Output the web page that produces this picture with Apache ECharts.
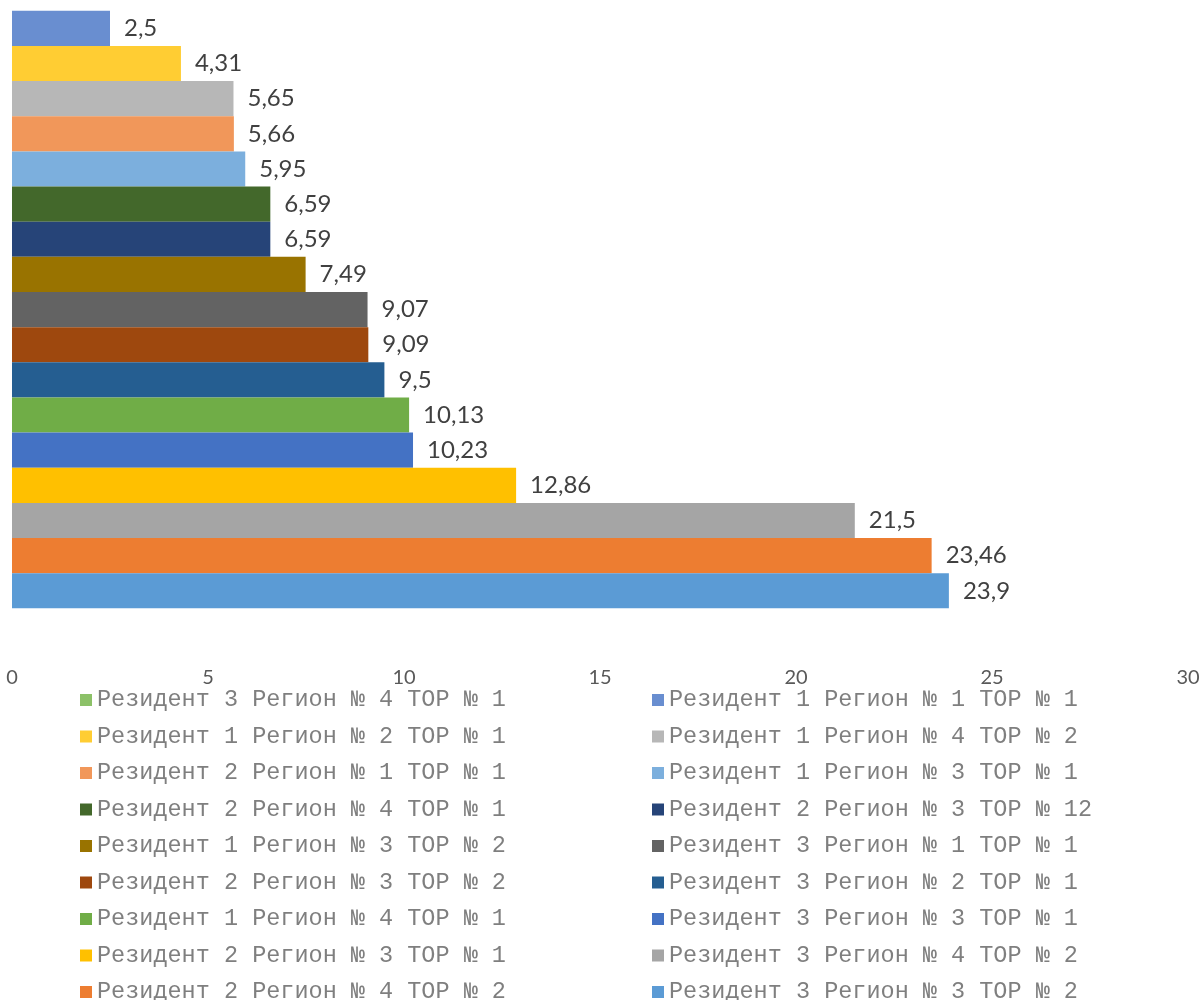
<!DOCTYPE html>
<html>
<head>
<meta charset="utf-8">
<script src="https://cdn.jsdelivr.net/npm/echarts@6/dist/echarts.min.js"></script>
<style>
html,body{margin:0;padding:0;background:#fff;}
#chart{width:1204px;height:1000px;}
</style>
</head>
<body>
<div id="chart"></div>
<script>
// Series names (top to bottom as drawn), values, and axis ticks
const seriesNames = [
  'Резидент 3 Регион № 4 ТОР № 1',
  'Резидент 1 Регион № 1 ТОР № 1',
  'Резидент 1 Регион № 2 ТОР № 1',
  'Резидент 1 Регион № 4 ТОР № 2',
  'Резидент 2 Регион № 1 ТОР № 1',
  'Резидент 1 Регион № 3 ТОР № 1',
  'Резидент 2 Регион № 4 ТОР № 1',
  'Резидент 2 Регион № 3 ТОР № 12',
  'Резидент 1 Регион № 3 ТОР № 2',
  'Резидент 3 Регион № 1 ТОР № 1',
  'Резидент 2 Регион № 3 ТОР № 2',
  'Резидент 3 Регион № 2 ТОР № 1',
  'Резидент 1 Регион № 4 ТОР № 1',
  'Резидент 3 Регион № 3 ТОР № 1',
  'Резидент 2 Регион № 3 ТОР № 1',
  'Резидент 3 Регион № 4 ТОР № 2',
  'Резидент 2 Регион № 4 ТОР № 2',
  'Резидент 3 Регион № 3 ТОР № 2'
];
// first series has no visible bar in the picture
const seriesValues = [null, 2.5, 4.31, 5.65, 5.66, 5.95, 6.59, 6.59, 7.49, 9.07, 9.09, 9.5, 10.13, 10.23, 12.86, 21.5, 23.46, 23.9];
const categories = [''];
const xTicks = { min: 0, max: 30, interval: 5 };

const palette = ['#8cc168','#698ed0','#ffcd33','#b7b7b7','#f1975a','#7cafdd','#43682b','#264478','#997300','#636363','#9e480e','#255e91','#70ad47','#4472c4','#ffc000','#a5a5a5','#ed7d31','#5b9bd5'];

const chart = echarts.init(document.getElementById('chart'));

const series = seriesNames.map((name, i) => ({
  name: name,
  type: 'bar',
  data: [seriesValues[i]],
  barWidth: 35.15,
  barGap: '0%',
  clip: false,
  itemStyle: { color: palette[i] },
  label: {
    show: true,
    position: 'right',
    distance: 14,
    fontFamily: 'Lato',
    fontSize: 24,
    color: '#404040',
    formatter: p => String(p.value).replace('.', ',')
  }
}));

const legendCommon = {
  orient: 'vertical',
  top: 688,
  height: 400,
  padding: 0,
  itemWidth: 12,
  itemHeight: 12,
  itemGap: 12.5,
  icon: 'rect',
  textStyle: { fontFamily: 'Liberation Mono', fontSize: 23.5, color: '#7f7f7f', lineHeight: 24 }
};

chart.setOption({
  animation: false,
  color: palette,
  grid: { left: 12, right: 16, top: 0, bottom: 416, containLabel: false },
  xAxis: {
    type: 'value',
    min: xTicks.min, max: xTicks.max, interval: xTicks.interval,
    axisLine: { show: false },
    axisTick: { show: false },
    splitLine: { show: false },
    axisLabel: { fontFamily: 'Lato', fontSize: 20, color: '#595959', margin: 84 }
  },
  yAxis: {
    type: 'category',
    data: categories,
    axisLine: { show: false },
    axisTick: { show: false },
    axisLabel: { show: false }
  },
  legend: [
    Object.assign({ left: 80, data: seriesNames.filter((_, i) => i % 2 === 0) }, legendCommon),
    Object.assign({ left: 652, data: seriesNames.filter((_, i) => i % 2 === 1) }, legendCommon)
  ],
  series: series
});
</script>
</body>
</html>
